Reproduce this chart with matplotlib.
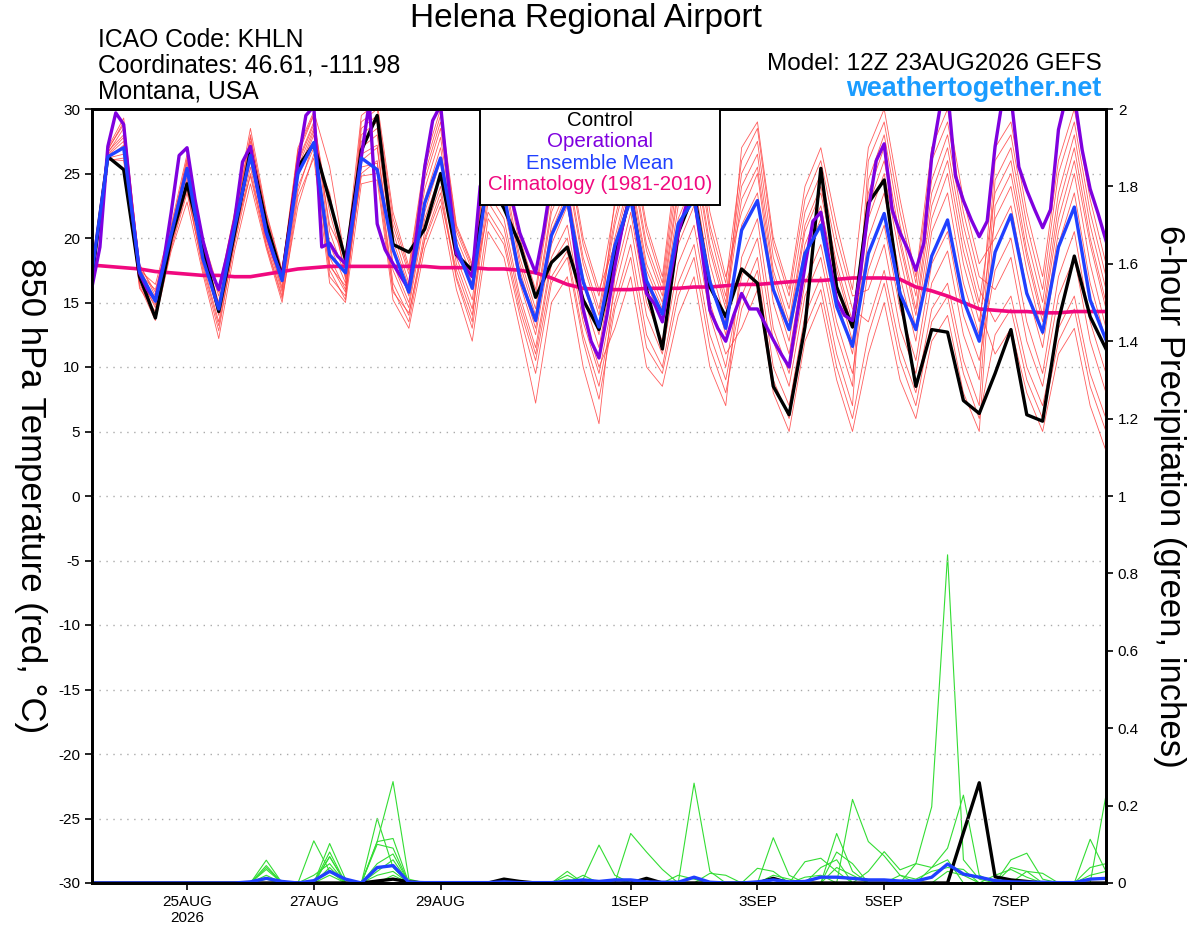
import matplotlib
matplotlib.use("Agg")
import matplotlib.pyplot as plt
from matplotlib.patches import Rectangle
import numpy as np

plt.rcParams['font.family'] = ['Liberation Sans', 'DejaVu Sans']
plt.rcParams['axes.unicode_minus'] = False

# 6-hourly steps from 23AUG2026 12Z (hours)
hours = np.arange(0, 385, 6)
op_hours = np.arange(0, 385, 3)

control = [17.0, 26.3, 25.3, 17.0, 13.8, 20.0, 24.2, 19.3,
           14.3, 20.4, 26.8, 21.1, 17.0, 25.5, 27.3, 22.9,
           18.3, 26.8, 29.5, 19.5, 18.9, 20.7, 25.0, 18.7,
           17.5, 24.5, 22.3, 19.5, 15.4, 18.1, 19.3, 15.2,
           12.9, 18.5, 23.5, 16.0, 11.4, 20.4, 23.5, 16.2,
           13.9, 17.6, 16.5, 8.5, 6.3, 13.1, 25.4, 16.2,
           13.1, 22.7, 24.5, 15.5, 8.5, 12.9, 12.7, 7.4,
           6.4, 9.5, 12.9, 6.3, 5.8, 13.6, 18.6, 13.9,
           11.4]

ens_mean = [17.3, 26.3, 27.0, 17.4, 15.1, 20.3, 25.4, 18.4,
            14.5, 20.8, 26.4, 20.5, 16.7, 25.0, 27.4, 18.7,
            17.3, 26.2, 25.3, 19.1, 15.8, 22.7, 26.2, 19.3,
            16.1, 24.8, 23.4, 16.9, 13.6, 20.2, 22.9, 16.6,
            13.1, 19.4, 23.0, 16.7, 14.1, 21.1, 23.0, 16.6,
            13.0, 20.6, 22.9, 16.0, 12.9, 18.8, 21.0, 14.7,
            11.6, 18.8, 21.9, 15.7, 12.9, 18.6, 21.4, 15.2,
            12.0, 18.9, 21.8, 15.7, 12.7, 19.3, 22.4, 15.2,
            12.1]

# operational run, 3-hourly
operational = [16.2, 19.3, 27.1, 29.7, 28.8, 22.5, 17.3, 16.0,
               15.2, 18.0, 22.0, 26.4, 27.0, 23.0, 19.8, 17.5,
               16.0, 18.5, 21.4, 25.9, 27.1, 23.5, 20.4, 18.5,
               17.0, 21.0, 25.8, 29.5, 30.2, 19.3, 19.6, 18.6,
               18.0, 22.0, 26.3, 30.5, 21.1, 19.1, 18.0, 17.0,
               16.0, 20.4, 25.5, 29.1, 30.3, 24.2, 18.8, 17.8,
               17.0, 24.0, 26.0, 25.0, 23.5, 23.0, 20.4, 18.8,
               17.3, 20.5, 24.5, 26.0, 23.5, 19.0, 14.5, 12.0,
               10.7, 14.0, 17.8, 21.0, 23.5, 19.5, 15.7, 14.9,
               13.5, 17.0, 20.4, 22.5, 23.3, 19.0, 14.4, 13.0,
               12.0, 14.0, 15.7, 14.5, 14.5, 13.3, 12.1, 11.0,
               10.0, 14.0, 17.8, 21.3, 22.0, 18.5, 15.2, 14.0,
               13.6, 17.3, 22.2, 26.0, 27.3, 22.2, 20.4, 19.1,
               17.5, 19.6, 26.3, 29.9, 31.5, 24.8, 22.9, 21.4,
               20.1, 21.3, 27.1, 31.0, 31.0, 25.5, 23.7, 22.2,
               20.8, 22.2, 28.4, 31.0, 31.0, 26.8, 23.8, 21.9,
               19.8]

climatology = [17.9, 17.8, 17.7, 17.6, 17.4, 17.3, 17.2, 17.1,
               17.1, 17.0, 17.0, 17.2, 17.4, 17.6, 17.7, 17.8,
               17.8, 17.8, 17.8, 17.8, 17.8, 17.8, 17.7, 17.7,
               17.7, 17.6, 17.6, 17.5, 17.3, 16.9, 16.4, 16.1,
               16.0, 16.0, 16.0, 16.1, 16.1, 16.1, 16.2, 16.2,
               16.3, 16.4, 16.4, 16.5, 16.6, 16.7, 16.7, 16.8,
               16.9, 16.9, 16.9, 16.8, 16.2, 15.9, 15.5, 15.0,
               14.5, 14.4, 14.3, 14.3, 14.2, 14.2, 14.3, 14.3,
               14.3]

# ensemble member temperatures, one row per 6-hour step
members_temp = [
    [17.8, 16.5, 17.2, 18.0, 16.2, 17.5, 16.8, 17.0, 17.6, 16.4, 17.3, 16.9],
    [26.8, 26.2, 26.5, 27.0, 26.0, 26.6, 26.3, 26.4, 26.9, 26.1, 26.7, 26.2],
    [29.0, 26.5, 27.8, 29.3, 26.2, 28.5, 27.0, 27.5, 28.8, 26.0, 28.0, 27.2],
    [18.0, 16.8, 17.5, 17.8, 16.3, 17.2, 17.0, 16.5, 17.9, 16.1, 17.4, 16.7],
    [15.5, 14.0, 16.4, 15.0, 13.6, 16.0, 14.6, 13.9, 15.8, 14.3, 15.2, 14.8],
    [20.5, 19.2, 21.0, 20.0, 19.0, 20.8, 19.6, 19.4, 20.6, 19.8, 20.2, 19.5],
    [26.0, 23.5, 26.5, 25.2, 22.8, 25.8, 24.5, 23.8, 26.2, 24.0, 25.5, 24.8],
    [19.5, 17.8, 20.0, 18.8, 17.2, 19.2, 18.4, 17.5, 19.8, 18.0, 19.0, 18.6],
    [15.5, 13.2, 16.0, 14.5, 12.2, 15.0, 14.0, 12.8, 15.8, 13.5, 14.8, 14.2],
    [21.5, 19.5, 22.0, 20.8, 19.0, 21.2, 20.2, 19.8, 21.8, 20.0, 21.0, 20.5],
    [27.5, 25.0, 28.5, 26.8, 24.2, 28.0, 26.0, 25.5, 27.8, 26.4, 27.2, 24.8],
    [21.2, 19.8, 22.0, 20.5, 19.2, 21.6, 20.0, 19.5, 21.8, 20.3, 21.0, 19.4],
    [17.2, 15.8, 17.5, 16.5, 15.0, 17.0, 16.2, 15.5, 17.4, 16.0, 16.8, 15.3],
    [26.5, 24.0, 27.0, 25.5, 23.2, 26.0, 24.8, 23.6, 26.8, 25.0, 25.8, 22.5],
    [29.5, 27.0, 29.8, 28.5, 26.2, 29.0, 28.0, 27.5, 29.6, 28.3, 28.8, 26.5],
    [19.5, 17.5, 25.5, 18.5, 16.5, 22.0, 18.0, 17.0, 20.5, 17.8, 21.0, 23.5],
    [16.5, 15.2, 18.2, 16.0, 15.0, 17.5, 15.8, 15.5, 17.0, 16.3, 18.5, 16.8],
    [28.5, 27.0, 29.5, 25.0, 24.2, 28.0, 26.5, 25.5, 29.0, 26.0, 27.5, 24.8],
    [29.5, 28.0, 30.5, 26.0, 24.5, 29.0, 27.2, 25.8, 30.0, 27.0, 28.5, 25.0],
    [20.5, 19.0, 22.0, 16.5, 15.2, 21.0, 18.0, 16.0, 21.5, 17.5, 19.8, 15.8],
    [16.5, 15.5, 17.8, 14.0, 13.0, 17.2, 15.0, 13.5, 17.5, 14.6, 16.2, 14.2],
    [24.5, 23.0, 26.0, 20.5, 19.2, 25.0, 22.0, 20.0, 25.5, 21.5, 23.8, 19.8],
    [28.5, 27.0, 30.0, 24.0, 22.5, 29.0, 26.0, 23.5, 29.5, 25.0, 27.8, 23.0],
    [20.0, 19.2, 21.0, 17.0, 16.0, 20.5, 18.5, 16.8, 20.8, 18.0, 19.5, 17.5],
    [17.0, 16.0, 18.0, 13.5, 12.0, 17.5, 15.2, 13.0, 17.8, 14.5, 16.5, 14.0],
    [27.0, 22.0, 28.0, 25.5, 20.5, 27.5, 24.5, 21.5, 26.5, 23.5, 25.0, 22.8],
    [25.0, 20.0, 26.0, 23.5, 18.5, 25.5, 22.5, 19.5, 24.5, 21.5, 23.0, 20.8],
    [18.5, 14.5, 20.0, 17.0, 13.0, 19.5, 16.5, 14.0, 18.0, 15.5, 17.5, 15.0],
    [14.5, 10.5, 16.0, 13.0, 7.2, 15.5, 12.5, 9.5, 14.0, 11.5, 13.5, 11.0],
    [22.5, 17.0, 24.0, 20.5, 15.0, 23.5, 19.5, 16.5, 22.0, 18.5, 21.0, 18.0],
    [25.5, 19.0, 27.0, 23.5, 17.0, 26.5, 22.5, 18.5, 25.0, 21.0, 24.0, 20.0],
    [18.5, 12.5, 20.0, 16.5, 10.0, 19.5, 15.5, 12.0, 18.0, 14.0, 17.0, 13.5],
    [14.5, 8.5, 16.0, 12.5, 5.6, 15.5, 11.5, 7.5, 14.0, 10.0, 13.0, 9.5],
    [21.5, 15.0, 19.5, 23.0, 17.0, 22.5, 18.5, 14.5, 21.0, 13.0, 20.0, 16.0],
    [26.5, 19.5, 24.5, 28.0, 22.0, 27.5, 23.5, 18.5, 26.0, 17.0, 25.0, 21.0],
    [19.5, 12.5, 17.5, 21.0, 15.0, 20.5, 16.5, 11.5, 19.0, 10.0, 18.0, 14.0],
    [16.0, 10.0, 14.5, 17.0, 12.0, 16.5, 13.5, 9.5, 15.5, 8.5, 15.0, 11.0],
    [25.0, 16.5, 22.5, 27.0, 19.5, 26.0, 21.5, 15.5, 24.0, 14.0, 23.5, 18.0],
    [28.0, 19.5, 25.5, 30.0, 22.5, 29.0, 24.5, 18.5, 27.0, 17.0, 26.5, 21.0],
    [20.5, 12.5, 18.0, 22.0, 15.0, 21.0, 17.0, 11.5, 19.5, 10.0, 19.0, 14.0],
    [15.5, 9.0, 13.5, 17.0, 11.0, 16.5, 12.5, 8.0, 15.0, 7.0, 14.5, 10.0],
    [25.0, 15.5, 27.0, 22.0, 13.0, 26.0, 21.0, 14.5, 24.0, 18.5, 23.0, 17.0],
    [27.5, 18.5, 29.0, 25.0, 16.0, 28.5, 23.5, 17.5, 26.5, 21.5, 25.5, 20.0],
    [18.5, 10.0, 20.0, 16.0, 8.0, 19.5, 15.0, 9.0, 17.5, 13.0, 17.0, 12.0],
    [14.5, 7.0, 16.0, 12.0, 5.0, 15.5, 11.0, 6.0, 13.5, 9.5, 13.0, 8.5],
    [22.0, 14.0, 24.0, 19.5, 12.0, 23.0, 18.5, 13.0, 21.0, 16.5, 20.5, 15.5],
    [25.0, 17.0, 27.0, 22.5, 15.0, 26.0, 21.5, 16.0, 24.0, 19.5, 23.5, 18.5],
    [19.0, 11.0, 21.0, 16.5, 9.0, 20.0, 15.5, 10.0, 18.0, 13.5, 17.5, 12.5],
    [14.5, 7.0, 16.0, 12.0, 5.0, 15.5, 11.0, 6.0, 13.5, 9.5, 13.0, 8.5],
    [13.5, 24.5, 27.0, 21.5, 11.0, 16.0, 20.0, 12.5, 23.5, 17.5, 22.5, 26.0],
    [17.5, 28.0, 30.0, 25.0, 15.0, 19.5, 23.5, 16.5, 27.0, 21.0, 26.0, 29.0],
    [11.5, 21.0, 23.0, 18.5, 9.0, 13.0, 17.0, 10.5, 20.0, 14.5, 19.5, 22.0],
    [8.0, 15.5, 17.0, 13.0, 6.0, 9.5, 12.0, 7.0, 14.5, 10.5, 14.0, 16.5],
    [14.5, 24.5, 27.0, 21.5, 12.0, 16.5, 20.5, 13.5, 23.5, 18.0, 22.5, 26.0],
    [16.5, 28.0, 30.0, 25.0, 14.0, 19.0, 23.5, 15.5, 27.0, 20.5, 26.0, 29.0],
    [10.5, 21.0, 23.0, 18.0, 8.0, 12.5, 16.5, 9.5, 20.0, 14.0, 19.0, 22.0],
    [7.0, 16.0, 18.0, 13.5, 5.0, 9.0, 12.5, 6.0, 15.0, 10.5, 14.5, 17.0],
    [24.5, 13.5, 20.0, 21.5, 22.5, 26.0, 27.0, 12.5, 23.5, 17.5, 11.0, 16.0],
    [27.0, 15.5, 22.5, 24.0, 25.0, 28.0, 29.0, 14.5, 26.0, 20.0, 13.0, 18.5],
    [20.0, 10.0, 16.0, 17.5, 18.5, 21.0, 22.0, 9.0, 19.0, 13.5, 8.0, 12.0],
    [15.0, 7.0, 11.5, 12.5, 13.5, 16.0, 17.0, 6.0, 14.0, 9.5, 5.0, 8.5],
    [23.5, 13.0, 19.5, 20.5, 21.5, 25.0, 26.0, 12.0, 22.5, 17.0, 11.0, 15.5],
    [28.0, 15.5, 23.5, 25.0, 26.0, 29.0, 30.0, 14.5, 27.0, 20.5, 13.0, 18.5],
    [21.0, 9.5, 16.5, 18.0, 19.5, 22.0, 23.0, 8.5, 20.0, 13.5, 7.0, 12.0],
    [16.0, 6.0, 12.0, 13.0, 14.5, 17.0, 18.0, 5.0, 15.0, 9.5, 3.5, 8.0],
]

# 6-hour precipitation (inches); members given as {step: amount}, zero elsewhere
precip_members = [
    {11: 0.059, 15: 0.068, 18: 0.107, 19: 0.262, 20: 0.01, 31: 0.01, 32: 0.098,
     33: 0.02, 38: 0.258, 39: 0.03, 52: 0.05, 53: 0.197, 54: 0.848, 55: 0.06, 56: 0.01},
    {11: 0.045, 14: 0.109, 15: 0.03, 18: 0.167, 19: 0.04, 30: 0.03, 34: 0.128,
     35: 0.08, 36: 0.035, 48: 0.216, 49: 0.107, 50: 0.07, 51: 0.02},
    {11: 0.04, 15: 0.102, 16: 0.01, 18: 0.107, 19: 0.115, 30: 0.01, 43: 0.117,
     44: 0.02, 47: 0.128, 48: 0.03, 58: 0.06, 59: 0.077, 60: 0.01},
    {11: 0.035, 15: 0.08, 18: 0.1, 19: 0.09, 26: 0.008, 42: 0.038, 43: 0.03,
     45: 0.055, 46: 0.064, 47: 0.03, 53: 0.04, 54: 0.09, 55: 0.227, 56: 0.02,
     63: 0.113, 64: 0.03},
    {12: 0.005, 15: 0.068, 18: 0.05, 19: 0.075, 37: 0.02, 38: 0.01, 46: 0.04,
     47: 0.06, 49: 0.03, 50: 0.081, 51: 0.034, 52: 0.05, 53: 0.04, 54: 0.06,
     58: 0.04, 59: 0.03, 64: 0.227},
    {11: 0.02, 14: 0.02, 15: 0.05, 18: 0.03, 19: 0.06, 30: 0.02, 33: 0.01,
     39: 0.025, 40: 0.02, 47: 0.08, 48: 0.05, 57: 0.02, 58: 0.035, 59: 0.015,
     63: 0.02, 64: 0.03},
    {15: 0.04, 18: 0.02, 19: 0.03, 31: 0.02, 43: 0.02, 44: 0.01, 47: 0.04,
     48: 0.02, 51: 0.02, 52: 0.01, 53: 0.03, 54: 0.04, 55: 0.035, 63: 0.04, 64: 0.05},
    {11: 0.01, 15: 0.02, 19: 0.02, 45: 0.015, 46: 0.02, 54: 0.03, 55: 0.02,
     59: 0.03, 60: 0.025},
]

precip_control = {18: 0.005, 19: 0.01, 20: 0.003, 26: 0.01, 27: 0.004, 35: 0.012,
                  43: 0.012, 55: 0.13, 56: 0.259, 57: 0.016, 58: 0.008, 59: 0.004}

precip_mean = [0, 0, 0, 0, 0, 0, 0, 0,
               0, 0, 0.003, 0.012, 0.004, 0, 0.006, 0.03,
               0.01, 0, 0.04, 0.045, 0.002, 0.001, 0.001, 0.001,
               0.001, 0.001, 0.003, 0.001, 0.001, 0.001, 0.004, 0.008,
               0.004, 0.008, 0.008, 0.003, 0.002, 0.002, 0.015, 0.002,
               0, 0, 0.003, 0.008, 0.003, 0.004, 0.015, 0.015,
               0.012, 0.008, 0.008, 0.005, 0.005, 0.015, 0.049, 0.023,
               0.015, 0.006, 0.003, 0.002, 0.002, 0.001, 0.001, 0.01,
               0.012]

tick_hours = [36, 84, 132, 204, 252, 300, 348]
tick_labels = ['25AUG\n2026', '27AUG', '29AUG', '1SEP', '3SEP', '5SEP', '7SEP']


def full_series(sparse):
    vals = np.zeros(len(hours))
    for k, v in sparse.items():
        vals[k] = v
    return vals


fig = plt.figure(figsize=(12, 9.27), dpi=100)
ax = fig.add_axes([92 / 1200, 44 / 927, 1014 / 1200, 774 / 927])
ax2 = ax.twinx()
ax.set_zorder(ax2.get_zorder() + 1)
ax.patch.set_visible(False)

# precipitation (right axis)
for m in precip_members:
    ax2.plot(hours, full_series(m), color='#33dd33', lw=0.8)
ax2.plot(hours, full_series(precip_control), color='black', lw=2.4)
ax2.plot(hours, precip_mean, color='#2040ff', lw=2.4)
ax2.set_ylim(0, 2)
ax2.set_yticks(np.arange(0, 2.01, 0.2))
ax2.set_yticklabels(['0', '0.2', '0.4', '0.6', '0.8', '1', '1.2', '1.4', '1.6', '1.8', '2'])

# temperature (left axis)
members_arr = np.array(members_temp)
for j in range(members_arr.shape[1]):
    ax.plot(hours, members_arr[:, j], color='#ff4040', lw=0.6, alpha=0.85)
ax.plot(hours, climatology, color='#f0087f', lw=2.6)
ax.plot(hours, control, color='black', lw=2.4)
ax.plot(op_hours, operational, color='#7f00df', lw=2.4)
ax.plot(hours, ens_mean, color='#2040ff', lw=2.4)

ax.set_xlim(0, 384)
ax.set_ylim(-30, 30)
ax.set_yticks(np.arange(-30, 31, 5))
for y in range(-25, 30, 5):
    ax.axhline(y, color='#aaaaaa', lw=1, ls=(0, (1, 4)), zorder=0)
ax.set_xticks(tick_hours)
ax.set_xticklabels(tick_labels)

for a in (ax, ax2):
    for s in a.spines.values():
        s.set_linewidth(2)
    a.tick_params(labelsize=11, width=1.2, length=5)

ax.set_ylabel('850 hPa Temperature (red, °C)', fontsize=25, rotation=-90,
              va='center')
ax.yaxis.set_label_coords(-0.061, 0.5)
ax2.set_ylabel('6-hour Precipitation (green, inches)', fontsize=25, rotation=-90,
               va='center')
ax2.yaxis.set_label_coords(1.063, 0.5)

# legend box
ax.add_patch(Rectangle((0.383, 0.876), 0.236, 0.124, transform=ax.transAxes,
                       facecolor='white', edgecolor='black', lw=1.4, zorder=5))
leg_items = [('Control', 'black'), ('Operational', '#7f00df'),
             ('Ensemble Mean', '#2040ff'), ('Climatology (1981-2010)', '#f0087f')]
for i, (txt, col) in enumerate(leg_items):
    ax.text(0.501, 0.985 - i * 0.0275, txt, color=col, fontsize=14.8,
            ha='center', va='center', transform=ax.transAxes, zorder=6)

fig.text(0.488, 0.98, 'Helena Regional Airport', fontsize=24, ha='center', va='center')
fig.text(0.082, 0.957, 'ICAO Code: KHLN', fontsize=17.8, va='center')
fig.text(0.082, 0.929, 'Coordinates: 46.61, -111.98', fontsize=17.8, va='center')
fig.text(0.082, 0.901, 'Montana, USA', fontsize=17.8, va='center')
fig.text(0.918, 0.931, 'Model: 12Z 23AUG2026 GEFS', fontsize=17.5, ha='right', va='center')
fig.text(0.918, 0.904, 'weathertogether.net', fontsize=19.4, ha='right', va='center',
         color='#1a9cff', fontweight='bold')

fig.savefig('out.png', dpi=100)
